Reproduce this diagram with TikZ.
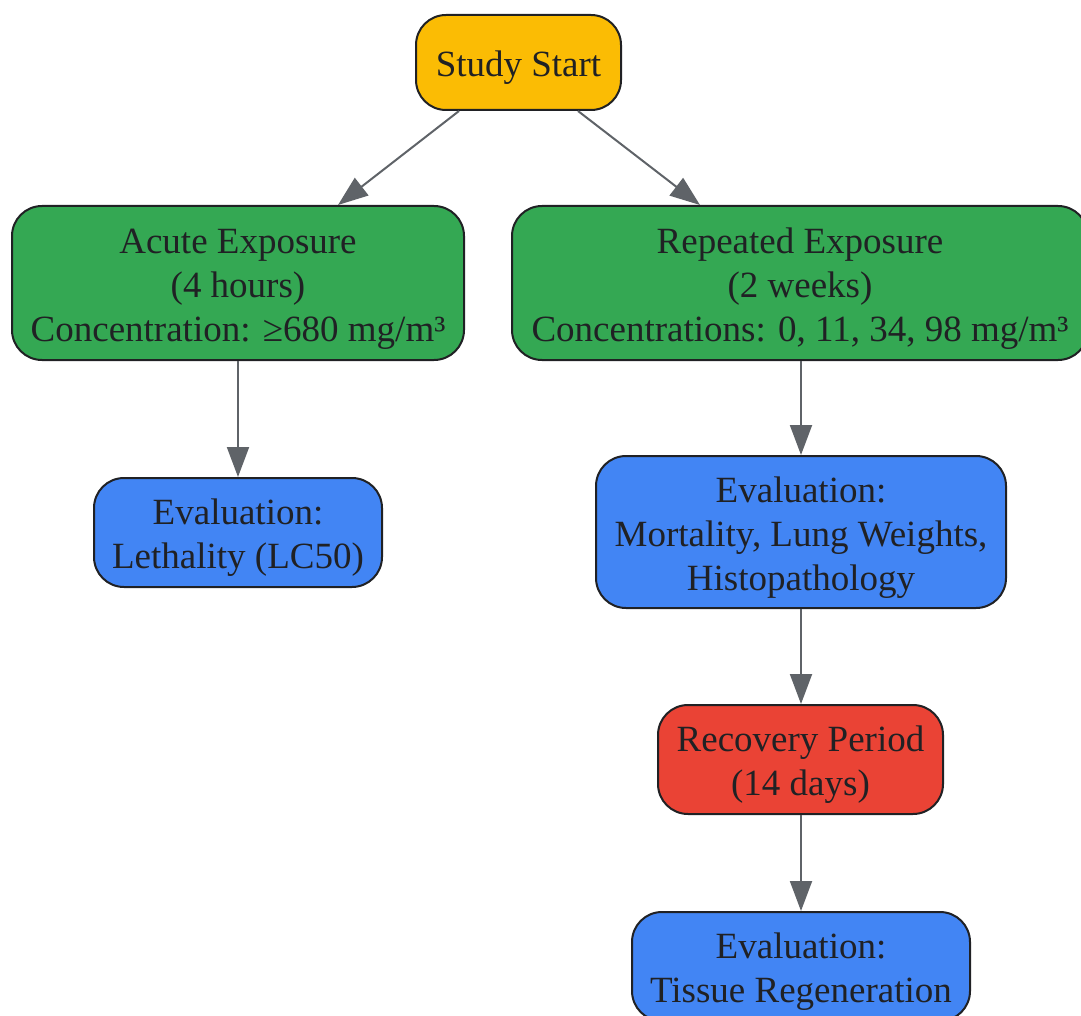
\documentclass[tikz,border=0pt]{standalone}
\usepackage{fontspec}
\setmainfont{Liberation Serif}
\usetikzlibrary{arrows.meta}
\definecolor{cyellow}{HTML}{FBBC04}
\definecolor{cgreen}{HTML}{34A853}
\definecolor{cblue}{HTML}{4285F4}
\definecolor{cred}{HTML}{EA4335}
\definecolor{ctext}{HTML}{202124}
\definecolor{cedge}{HTML}{5F6368}
\newcommand\lowtext[1]{\raisebox{-5.5pt}[\height][\depth]{\begin{tabular}{@{}c@{}}#1\end{tabular}}}
\tikzset{
  box/.style={draw=ctext, line width=2pt, rounded corners=30pt, align=center,
    inner sep=0pt, text=ctext, font=\fontsize{37}{44}\selectfont},
  link/.style={draw=cedge, line width=2pt, -{Triangle[length=30pt,width=22pt]}}
}
\begin{document}
\begin{tikzpicture}[x=1pt,y=-1pt]
\useasboundingbox (0,0) rectangle (1081,1016);
\clip (0,0) rectangle (1081,1016);
\node[box, fill=cyellow, minimum width=205pt, minimum height=95pt] (start) at (518.5,62.5) {\lowtext{Study Start}};
\node[box, fill=cgreen, minimum width=452pt, minimum height=154pt] (acute) at (238,283) {\lowtext{Acute Exposure\\(4 hours)\\Concentration: ≥680 mg/m³}};
\node[box, fill=cgreen, minimum width=576pt, minimum height=154pt] (rep) at (800,283) {\lowtext{Repeated Exposure\\(2 weeks)\\Concentrations: 0, 11, 34, 98 mg/m³}};
\node[box, fill=cblue, minimum width=288pt, minimum height=109pt] (ev1) at (238,532.5) {\lowtext{Evaluation:\\Lethality (LC50)}};
\node[box, fill=cblue, minimum width=410pt, minimum height=152pt] (ev2) at (801,532) {\lowtext{Evaluation:\\Mortality, Lung Weights,\\Histopathology}};
\node[box, fill=cred, minimum width=285pt, minimum height=109pt] (rec) at (800.5,759.5) {\lowtext{Recovery Period\\(14 days)}};
\node[box, fill=cblue, minimum width=338pt, minimum height=109pt] (ev3) at (801,966.5) {\lowtext{Evaluation:\\Tissue Regeneration}};
\draw[link] ([xshift=-59.5pt]start.south) -- ([xshift=100pt]acute.north);
\draw[link] ([xshift=59.5pt]start.south) -- ([xshift=-100pt]rep.north);
\draw[link] (acute.south) -- (ev1.north);
\draw[link] ([xshift=1pt]rep.south) -- (ev2.north);
\draw[link] (ev2.south) -- (ev2.south |- rec.north);
\draw[link] (rec.south -| ev2.south) -- (ev3.north);
\end{tikzpicture}
\end{document}
